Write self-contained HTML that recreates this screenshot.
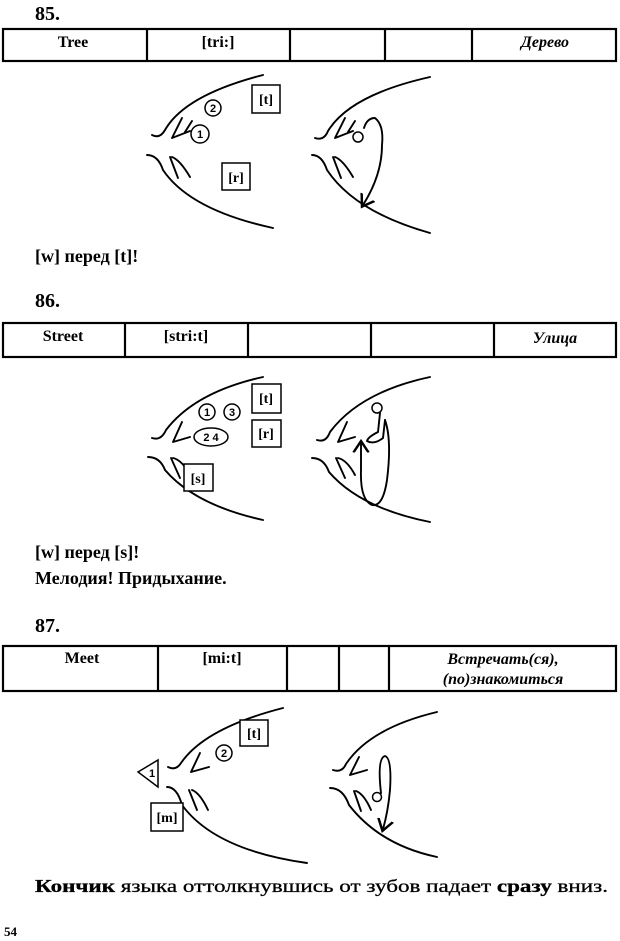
<!DOCTYPE html>
<html><head><meta charset="utf-8"><style>
html,body{margin:0;padding:0;background:#fff;}
svg{display:block;}
text{font-family:"Liberation Serif",serif;fill:#000;}
.b{font-weight:bold;}
.tb{font-weight:bold;font-size:16px;}
.h{font-weight:bold;font-size:20px;}
.s{fill:none;stroke:#000;stroke-width:1.9;stroke-linecap:round;stroke-linejoin:round;}
.t{fill:none;stroke:#000;stroke-width:2.2;}
.bx{fill:#fff;stroke:#000;stroke-width:1.5;}
.n{font-family:"Liberation Sans",sans-serif;font-size:11px;font-weight:bold;}
</style></head><body>
<svg width="620" height="941" viewBox="0 0 620 941" xmlns="http://www.w3.org/2000/svg">
<defs><marker id="ar" markerWidth="10" markerHeight="10" refX="5" refY="5" orient="auto"><path d="M0,1 L6,5 L0,9" fill="none" stroke="#000" stroke-width="1.3"/></marker></defs>

<!-- 85 -->
<text x="35" y="20" class="h">85.</text>
<rect x="3" y="29" width="613" height="32" class="t"/>
<line x1="147" y1="29" x2="147" y2="61" class="t"/><line x1="290" y1="29" x2="290" y2="61" class="t"/>
<line x1="385" y1="29" x2="385" y2="61" class="t"/><line x1="472" y1="29" x2="472" y2="61" class="t"/>
<text x="73" y="47" class="tb" text-anchor="middle">Tree</text>
<text x="218" y="47" class="tb" text-anchor="middle">[tri:]</text>
<text x="545" y="47" class="tb" text-anchor="middle" font-style="italic">Дерево</text>

<path class="s" d="M152,135 Q160,139 165,130 Q185,95 263,75"/>
<path class="s" d="M147,155 Q158,155 163,170 Q190,210 273,228"/>
<path class="s" d="M182,118 L172,138 L190,131 M192,121 L185,132"/>
<path class="s" d="M170,157 L178,178 M172,157 Q180,160 190,177"/>
<circle cx="213" cy="108" r="8" class="bx"/><text x="213" y="112" class="n" text-anchor="middle">2</text>
<circle cx="200" cy="134" r="9" class="bx"/><text x="200" y="138" class="n" text-anchor="middle">1</text>
<rect x="252" y="85" width="28" height="28" class="bx"/><text x="266" y="104" class="b" font-size="14" text-anchor="middle">[t]</text>
<rect x="222" y="163" width="28" height="27" class="bx"/><text x="236" y="182" class="b" font-size="14" text-anchor="middle">[r]</text>

<path class="s" d="M315,138 Q324,141 328,131 Q350,95 430,77"/>
<path class="s" d="M312,155 Q322,155 327,170 Q355,212 430,233"/>
<path class="s" d="M345,118 L335,138 L353,131 M355,121 L348,132"/>
<path class="s" d="M333,157 L341,178 M335,157 Q343,160 353,177"/>
<circle cx="358" cy="137" r="5" class="bx"/>
<path class="s" marker-end="url(#ar)" d="M364,128 Q367,118 375,118 Q384,125 382,145 Q382,175 363,205"/>

<text x="35" y="262" class="b" font-size="18">[w] перед [t]!</text>

<!-- 86 -->
<text x="35" y="307" class="h">86.</text>
<rect x="3" y="323" width="613" height="34" class="t"/>
<line x1="125" y1="323" x2="125" y2="357" class="t"/><line x1="248" y1="323" x2="248" y2="357" class="t"/>
<line x1="371" y1="323" x2="371" y2="357" class="t"/><line x1="494" y1="323" x2="494" y2="357" class="t"/>
<text x="63" y="341" class="tb" text-anchor="middle">Street</text>
<text x="186" y="341" class="tb" text-anchor="middle">[stri:t]</text>
<text x="555" y="343" class="tb" text-anchor="middle" font-style="italic">Улица</text>

<path class="s" d="M152,438 Q161,441 166,430 Q195,392 263,377"/>
<path class="s" d="M148,457 Q160,457 165,470 Q195,505 263,520"/>
<path class="s" d="M182,422 L173,442 L190,437"/>
<path class="s" d="M171,458 L180,478 M173,458 Q182,460 190,475"/>
<circle cx="207" cy="412" r="8" class="bx"/><text x="207" y="416" class="n" text-anchor="middle">1</text>
<circle cx="232" cy="412" r="8" class="bx"/><text x="232" y="416" class="n" text-anchor="middle">3</text>
<ellipse cx="211" cy="437" rx="17" ry="9" class="bx"/><text x="211" y="441" class="n" text-anchor="middle">2 4</text>
<rect x="252" y="384" width="29" height="29" class="bx"/><text x="266" y="403" class="b" font-size="14" text-anchor="middle">[t]</text>
<rect x="252" y="420" width="29" height="27" class="bx"/><text x="266" y="438" class="b" font-size="14" text-anchor="middle">[r]</text>
<rect x="184" y="464" width="29" height="27" class="bx"/><text x="198" y="483" class="b" font-size="14" text-anchor="middle">[s]</text>

<path class="s" d="M317,440 Q326,443 330,432 Q360,392 430,377"/>
<path class="s" d="M312,458 Q324,458 329,472 Q360,508 430,522"/>
<path class="s" d="M347,422 L338,442 L355,437"/>
<path class="s" d="M336,458 L345,478 M338,458 Q347,460 355,475"/>
<circle cx="377" cy="408" r="5" class="bx"/>
<path class="s" d="M380,413 L378,432 Q368,437 367,441 Q374,445 383,438 L385,420"/>
<path class="s" marker-end="url(#ar)" d="M385,420 Q392,440 387,480 Q383,507 372,505 Q360,500 361,470 L361,443"/>

<text x="35" y="558" class="b" font-size="18">[w] перед [s]!</text>
<text x="35" y="584" class="b" font-size="18">Мелодия! Придыхание.</text>

<!-- 87 -->
<text x="35" y="632" class="h">87.</text>
<rect x="3" y="646" width="613" height="45" class="t"/>
<line x1="158" y1="646" x2="158" y2="691" class="t"/><line x1="287" y1="646" x2="287" y2="691" class="t"/>
<line x1="339" y1="646" x2="339" y2="691" class="t"/><line x1="389" y1="646" x2="389" y2="691" class="t"/>
<text x="82" y="663" class="tb" text-anchor="middle">Meet</text>
<text x="222" y="663" class="tb" text-anchor="middle">[mi:t]</text>
<text x="503" y="664" class="tb" text-anchor="middle" font-style="italic">Встречать(ся),</text>
<text x="503" y="684" class="tb" text-anchor="middle" font-style="italic">(по)знакомиться</text>

<path class="s" d="M168,767 Q176,771 181,763 Q205,728 283,708"/>
<path class="s" d="M167,787 Q177,787 182,805 Q215,850 307,863"/>
<path class="s" d="M200,753 L191,772 L209,767"/>
<path class="s" d="M189,790 L197,810 M192,790 Q200,793 208,810"/>
<circle cx="224" cy="753" r="8" class="bx"/><text x="224" y="757" class="n" text-anchor="middle">2</text>
<rect x="240" y="720" width="28" height="26" class="bx"/><text x="254" y="738" class="b" font-size="14" text-anchor="middle">[t]</text>
<polygon points="138,772 158,760 158,787" class="bx"/><text x="152" y="777" class="n" text-anchor="middle">1</text>
<rect x="151" y="803" width="32" height="28" class="bx"/><text x="167" y="822" class="b" font-size="14" text-anchor="middle">[m]</text>

<path class="s" d="M333,770 Q342,773 346,764 Q370,728 437,712"/>
<path class="s" d="M330,788 Q343,788 349,805 Q380,845 437,857"/>
<path class="s" d="M359,757 L350,775 L367,770"/>
<path class="s" d="M354,791 L361,811 M356,791 Q364,794 371,810"/>
<circle cx="377" cy="797" r="4.5" class="bx"/>
<path class="s" marker-end="url(#ar)" d="M381,793 Q377,758 385,756 Q392,758 390,790 Q388,812 383,829"/>

<text x="35" y="892" font-size="18" textLength="573" lengthAdjust="spacingAndGlyphs" stroke="#000" stroke-width="0.3"><tspan class="b">Кончик</tspan> языка оттолкнувшись от зубов падает <tspan class="b">сразу</tspan> вниз.</text>
<text x="4" y="936" class="b" font-size="13">54</text>
</svg>
</body></html>
